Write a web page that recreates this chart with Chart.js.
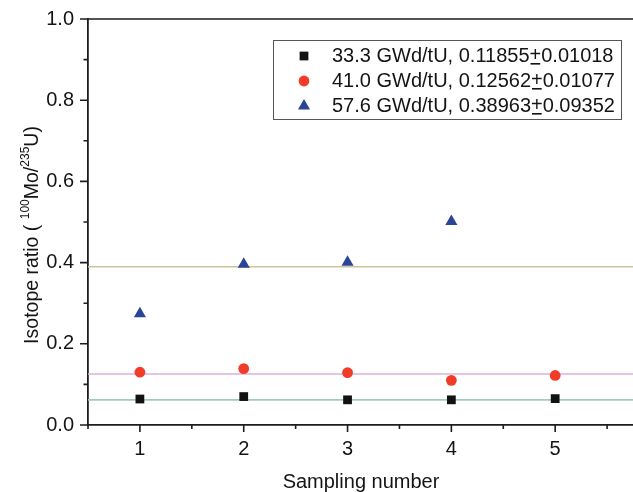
<!DOCTYPE html>
<html>
<head>
<meta charset="utf-8">
<script src="https://cdn.jsdelivr.net/npm/chart.js@4.4.1/dist/chart.umd.min.js"></script>
<style>
  html, body { margin: 0; padding: 0; background: #fff; overflow: hidden; width: 633px; height: 492px; }
  #wrap { width: 666px; height: 492px; }
</style>
</head>
<body>
<div id="wrap"><canvas id="c" width="666" height="492"></canvas></div>
<script>
// ---- data ----
const samplingNumbers = [1, 2, 3, 4, 5];
const burnups = ['33.3 GWd/tU', '41.0 GWd/tU', '57.6 GWd/tU'];
const meanText = ['0.11855', '0.12562', '0.38963'];
const sdText = ['0.01018', '0.01077', '0.09352'];
const ratio333 = [0.064, 0.070, 0.062, 0.062, 0.065];
const ratio410 = [0.130, 0.139, 0.129, 0.110, 0.122];
const ratio576 = [0.274, 0.396, 0.401, 0.501, null];
const refLevels = [0.062, 0.12562, 0.38963];
const yTicks = [0, 0.2, 0.4, 0.6, 0.8, 1.0];
const yMinorTicks = [0.1, 0.3, 0.5, 0.7, 0.9];
const xTicks = [1, 2, 3, 4, 5];
const xTickMarks = [1, 2, 3, 4, 5, 6];
const xMinorTicks = [0.5, 1.5, 2.5, 3.5, 4.5, 5.5];

// ---- styles ----
const FONT = '"Liberation Sans", Arial, Helvetica, sans-serif';
const AXIS = '#1c1c1c';
const markers = [
  { pointStyle: 'rect', radius: 6.2, color: '#121212' },
  { pointStyle: 'circle', radius: 5.4, color: '#f03c28' },
  { pointStyle: 'triangle', radius: 7, color: '#2a4497' }
];
const lineColors = ['#a4c7c3', '#d9b5dc', '#cdc49d'];
const seriesValues = [ratio333, ratio410, ratio576];

const pointSets = seriesValues.map((vals, i) => ({
  label: burnups[i],
  data: samplingNumbers.map((x, j) => ({ x: x, y: vals[j] })).filter(p => p.y !== null),
  pointStyle: markers[i].pointStyle,
  pointRadius: markers[i].radius,
  pointHoverRadius: markers[i].radius,
  backgroundColor: markers[i].color,
  borderColor: markers[i].color,
  borderWidth: 0,
  showLine: false,
  order: 1
}));

const levelSets = refLevels.map((v, i) => ({
  label: 'level ' + i,
  data: [{ x: 0.5, y: v }, { x: 6.0, y: v }],
  showLine: true,
  borderColor: lineColors[i],
  borderWidth: 1.6,
  pointRadius: 0,
  order: 2
}));

// axis ticks, top frame, titles and legend box
const decorations = {
  id: 'decorations',
  afterDraw(chart) {
    const ctx = chart.ctx;
    const xs = chart.scales.x, ys = chart.scales.y;
    const area = chart.chartArea;
    ctx.save();
    ctx.strokeStyle = AXIS;
    ctx.lineWidth = 1.6;
    ctx.beginPath();
    ctx.moveTo(area.left - 1, area.top);
    ctx.lineTo(chart.width, area.top);
    yTicks.forEach(v => { const p = ys.getPixelForValue(v); ctx.moveTo(area.left, p); ctx.lineTo(area.left - 8, p); });
    yMinorTicks.forEach(v => { const p = ys.getPixelForValue(v); ctx.moveTo(area.left, p); ctx.lineTo(area.left - 4.5, p); });
    xTickMarks.forEach(v => { const p = xs.getPixelForValue(v); ctx.moveTo(p, area.bottom); ctx.lineTo(p, area.bottom + 7); });
    xMinorTicks.forEach(v => { const p = xs.getPixelForValue(v); ctx.moveTo(p, area.bottom); ctx.lineTo(p, area.bottom + 4); });
    ctx.stroke();

    // x title
    ctx.fillStyle = '#141414';
    ctx.font = '20px ' + FONT;
    ctx.textAlign = 'center';
    ctx.textBaseline = 'middle';
    ctx.fillText('Sampling number', 361, 482);

    // y title with superscripts
    const parts = [['Isotope ratio ( ', false], ['100', true], ['Mo/', false], ['235', true], ['U)', false]];
    const fontFor = sup => (sup ? '12px ' : '19.5px ') + FONT;
    let total = 0;
    parts.forEach(([t, sup]) => { ctx.font = fontFor(sup); total += ctx.measureText(t).width; });
    ctx.translate(38, 235);
    ctx.rotate(-Math.PI / 2);
    ctx.textAlign = 'left';
    ctx.textBaseline = 'alphabetic';
    let pos = -total / 2;
    parts.forEach(([t, sup]) => {
      ctx.font = fontFor(sup);
      ctx.fillText(t, pos, sup ? -9 : 0);
      pos += ctx.measureText(t).width;
    });
    ctx.restore();

    // legend
    ctx.save();
    ctx.strokeStyle = '#555';
    ctx.lineWidth = 1;
    ctx.strokeRect(273.5, 40.5, 348, 79);
    const rows = [56, 81, 106];
    ctx.font = '20px ' + FONT;
    ctx.textBaseline = 'middle';
    ctx.textAlign = 'left';
    burnups.forEach((b, i) => {
      const m = markers[i];
      ctx.fillStyle = m.color;
      ctx.strokeStyle = m.color;
      Chart.helpers.drawPoint(ctx, { pointStyle: m.pointStyle, radius: m.radius, rotation: 0, borderWidth: 0 }, 304, rows[i]);
      ctx.fillStyle = '#141414';
      let x = 332;
      const head = b + ', ' + meanText[i];
      ctx.fillText(head, x, rows[i]);
      x += ctx.measureText(head).width;
      ctx.fillText('+', x, rows[i] - 1);
      const pw = ctx.measureText('+').width;
      ctx.fillRect(x + 1, rows[i] + 7, pw - 2, 1.6);
      x += pw;
      ctx.fillText(sdText[i], x, rows[i]);
    });
    ctx.restore();
  }
};

new Chart(document.getElementById('c'), {
  type: 'scatter',
  data: { datasets: [...pointSets, ...levelSets] },
  options: {
    responsive: false,
    devicePixelRatio: 1,
    animation: false,
    layout: { padding: { top: 19, left: 0, right: 0, bottom: 0 } },
    plugins: { legend: { display: false }, tooltip: { enabled: false } },
    scales: {
      x: {
        type: 'linear', min: 0.5, max: 6.0,
        afterBuildTicks: s => { s.ticks = xTicks.map(v => ({ value: v })); },
        afterFit: s => { s.height = 67; s.paddingLeft = 0; s.paddingRight = 0; },
        grid: { display: true, drawOnChartArea: false, drawTicks: false },
        border: { display: true, color: AXIS, width: 1.8 },
        ticks: { padding: 12, color: '#141414', font: { family: FONT, size: 20 }, maxRotation: 0, autoSkip: false,
                 callback: v => String(v) }
      },
      y: {
        type: 'linear', min: 0, max: 1,
        afterBuildTicks: s => { s.ticks = yTicks.map(v => ({ value: v })); },
        afterFit: s => { s.width = 88; s.paddingTop = 0; s.paddingBottom = 0; },
        grid: { display: true, drawOnChartArea: false, drawTicks: false },
        border: { display: true, color: AXIS, width: 1.8 },
        ticks: { padding: 14, color: '#141414', font: { family: FONT, size: 20 },
                 callback: v => Number(v).toFixed(1) }
      }
    }
  },
  plugins: [decorations]
});
</script>
</body>
</html>
